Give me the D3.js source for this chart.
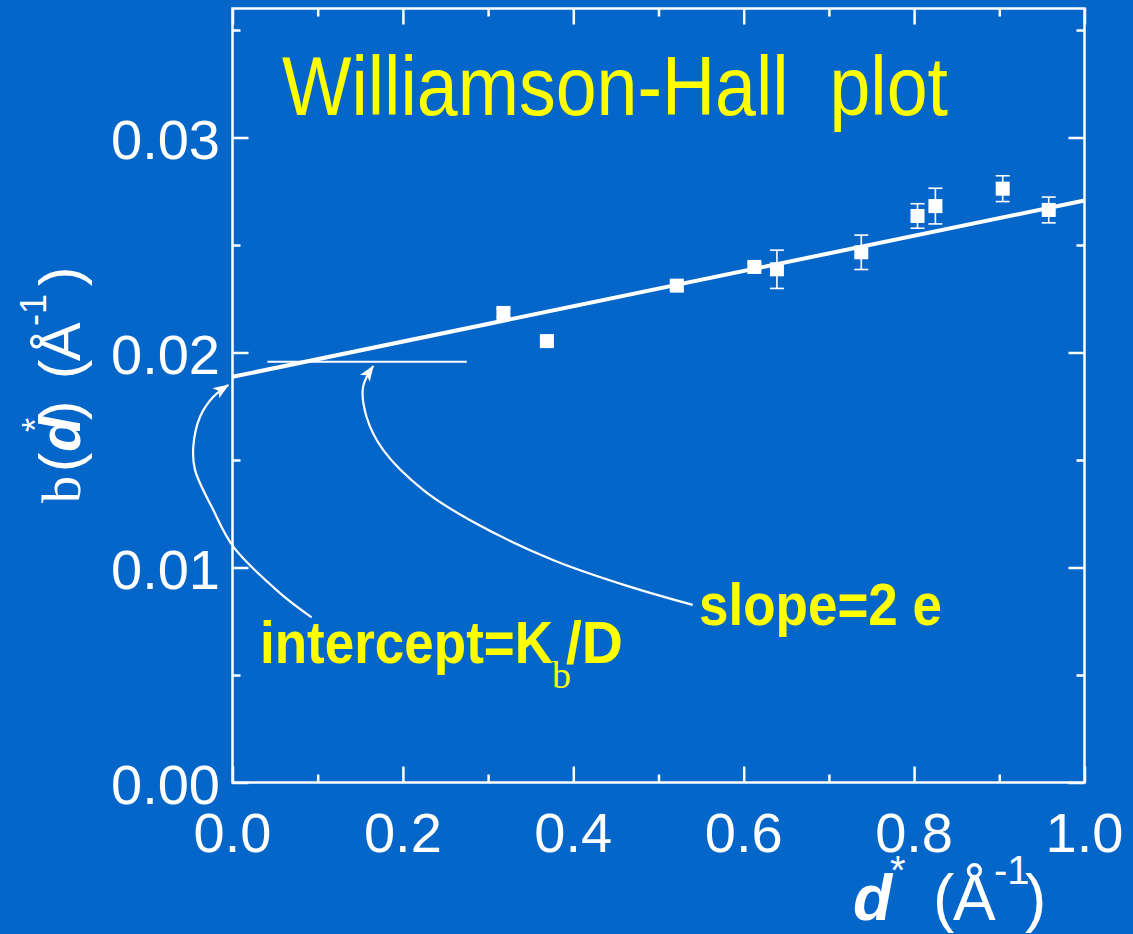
<!DOCTYPE html>
<html>
<head>
<meta charset="utf-8">
<script src="https://cdn.jsdelivr.net/npm/d3@7"></script>
<style>
  html, body { margin: 0; padding: 0; background: #0566CA; }
  svg { display: block; }
</style>
</head>
<body>
<svg id="chart" width="1133" height="934"></svg>
<script>
// Williamson-Hall data: reciprocal spacing d* (1/Å) vs. integral breadth beta (1/Å)
const dStar  = [0.318, 0.369, 0.5215, 0.6125, 0.639, 0.738, 0.804, 0.825, 0.904, 0.958];
const beta   = [0.02184, 0.02053, 0.02311, 0.02398, 0.02387, 0.02466, 0.02635, 0.02681, 0.02762, 0.02663];
const betaErr = [0.0002, 0.0002, 0.0002, 0.00015, 0.00089, 0.0008, 0.00057, 0.00083, 0.0006, 0.0006];

// Linear fit: beta = intercept + slope * d*
const fitIntercept = 0.01887;
const fitSlope = 0.0082;

// Tick values
const xMajorTicks = [0.0, 0.2, 0.4, 0.6, 0.8, 1.0];
const xMinorTicks = [0.1, 0.3, 0.5, 0.7, 0.9];
const yMajorTicks = [0.00, 0.01, 0.02, 0.03];
const yMinorTicks = [0.005, 0.015, 0.025, 0.035];

// Horizontal guide showing the rise for the slope annotation
const guideY = 0.01957;
const guideX = [0.041, 0.275];

// Annotation arrow paths (data units), tail to head
const interceptArrow = [
  [0.0929, 0.00768], [0.0557, 0.00881], [0.0009, 0.01097], [-0.0225, 0.01267],
  [-0.0440, 0.01454], [-0.0460, 0.01562], [-0.0381, 0.01701], [-0.0225, 0.01794], [-0.0049, 0.01849]
];
const slopeArrow = [
  [0.5402, 0.00826], [0.4660, 0.00911], [0.3761, 0.01035], [0.2784, 0.01221],
  [0.2237, 0.01361], [0.1768, 0.01547], [0.1573, 0.01701], [0.1533, 0.01841], [0.1651, 0.01937]
];

const W = 1133, H = 934;
const margin = { left: 232.5, right: 1084.5, top: 8.5, bottom: 782.5 };
const svg = d3.select('#chart');
const BG = '#0566CA';
const FG = '#FFFFFF';
const YEL = '#FFFF00';
const SANS = 'Liberation Sans, Arial, Helvetica, sans-serif';
const SERIF = 'Liberation Serif, Times New Roman, serif';

svg.append('rect').attr('width', W).attr('height', H).attr('fill', BG);

const x = d3.scaleLinear().domain([0, 1]).range([margin.left, margin.right]);
const y = d3.scaleLinear().domain([0, 0.036]).range([margin.bottom, margin.top]);

// Frame axes with inward ticks on all four sides
function styleAxis(g) {
  g.select('.domain').remove();
  g.selectAll('.tick line').attr('stroke', FG).attr('stroke-width', 2.5);
  g.selectAll('.tick text').remove();
}
const majLen = 16, minLen = 8;
svg.append('g').attr('transform', `translate(0,${margin.bottom})`)
  .call(d3.axisBottom(x).tickValues(xMajorTicks).tickSize(-majLen)).call(styleAxis);
svg.append('g').attr('transform', `translate(0,${margin.bottom})`)
  .call(d3.axisBottom(x).tickValues(xMinorTicks).tickSize(-minLen)).call(styleAxis);
svg.append('g').attr('transform', `translate(0,${margin.top})`)
  .call(d3.axisTop(x).tickValues(xMajorTicks).tickSize(-majLen)).call(styleAxis);
svg.append('g').attr('transform', `translate(0,${margin.top})`)
  .call(d3.axisTop(x).tickValues(xMinorTicks).tickSize(-minLen)).call(styleAxis);
svg.append('g').attr('transform', `translate(${margin.left},0)`)
  .call(d3.axisLeft(y).tickValues(yMajorTicks).tickSize(-majLen)).call(styleAxis);
svg.append('g').attr('transform', `translate(${margin.left},0)`)
  .call(d3.axisLeft(y).tickValues(yMinorTicks).tickSize(-minLen)).call(styleAxis);
svg.append('g').attr('transform', `translate(${margin.right},0)`)
  .call(d3.axisRight(y).tickValues(yMajorTicks).tickSize(-majLen)).call(styleAxis);
svg.append('g').attr('transform', `translate(${margin.right},0)`)
  .call(d3.axisRight(y).tickValues(yMinorTicks).tickSize(-minLen)).call(styleAxis);

svg.append('rect')
  .attr('x', margin.left).attr('y', margin.top)
  .attr('width', margin.right - margin.left).attr('height', margin.bottom - margin.top)
  .attr('fill', 'none').attr('stroke', FG).attr('stroke-width', 2.5);

// Tick labels
const tickFont = 56;
svg.append('g').selectAll('text').data(xMajorTicks).join('text')
  .attr('x', d => x(d)).attr('y', 852)
  .attr('text-anchor', 'middle')
  .attr('font-family', SANS).attr('font-size', tickFont).attr('fill', FG)
  .text(d => d.toFixed(1));
svg.append('g').selectAll('text').data(yMajorTicks).join('text')
  .attr('x', 220).attr('y', d => y(d) + 21)
  .attr('text-anchor', 'end')
  .attr('font-family', SANS).attr('font-size', tickFont).attr('fill', FG)
  .text(d => d.toFixed(2));

// Fit line
svg.append('line')
  .attr('x1', x(0)).attr('y1', y(fitIntercept))
  .attr('x2', x(1)).attr('y2', y(fitIntercept + fitSlope))
  .attr('stroke', FG).attr('stroke-width', 4);

// Horizontal guide
svg.append('line')
  .attr('x1', x(guideX[0])).attr('x2', x(guideX[1]))
  .attr('y1', y(guideY)).attr('y2', y(guideY))
  .attr('stroke', FG).attr('stroke-width', 2);

// Error bars and square markers
const pts = dStar.map((d, i) => ({ x: d, y: beta[i], e: betaErr[i] }));
const eb = svg.append('g').attr('stroke', FG).attr('stroke-width', 1.6);
const capW = 7;
pts.forEach(p => {
  eb.append('line').attr('x1', x(p.x)).attr('x2', x(p.x))
    .attr('y1', y(p.y - p.e)).attr('y2', y(p.y + p.e));
  eb.append('line').attr('x1', x(p.x) - capW).attr('x2', x(p.x) + capW)
    .attr('y1', y(p.y + p.e)).attr('y2', y(p.y + p.e));
  eb.append('line').attr('x1', x(p.x) - capW).attr('x2', x(p.x) + capW)
    .attr('y1', y(p.y - p.e)).attr('y2', y(p.y - p.e));
});
const sq = 14;
svg.append('g').selectAll('rect').data(pts).join('rect')
  .attr('x', d => x(d.x) - sq / 2).attr('y', d => y(d.y) - sq / 2)
  .attr('width', sq).attr('height', sq).attr('fill', FG);

// Arrowhead marker
svg.append('defs').append('marker')
  .attr('id', 'head').attr('viewBox', '0 0 16 12')
  .attr('refX', 15).attr('refY', 6)
  .attr('markerWidth', 16).attr('markerHeight', 12)
  .attr('markerUnits', 'userSpaceOnUse')
  .attr('orient', 'auto')
  .append('path').attr('d', 'M0,0 L16,6 L0,12 L4,6 Z').attr('fill', FG);

const curve = d3.line().x(d => x(d[0])).y(d => y(d[1])).curve(d3.curveCatmullRom);
[interceptArrow, slopeArrow].forEach(a => {
  svg.append('path').attr('d', curve(a))
    .attr('fill', 'none').attr('stroke', FG).attr('stroke-width', 2.2)
    .attr('marker-end', 'url(#head)');
});

// Title
svg.append('text')
  .attr('x', 282).attr('y', 115)
  .attr('font-family', SANS).attr('font-size', 83).attr('fill', YEL)
  .attr('textLength', 666).attr('lengthAdjust', 'spacingAndGlyphs')
  .style('white-space', 'pre')
  .text('Williamson-Hall  plot');

// Annotation labels
svg.append('text')
  .attr('x', 260).attr('y', 663)
  .attr('font-family', SANS).attr('font-weight', 'bold').attr('font-size', 60).attr('fill', YEL)
  .attr('textLength', 293).attr('lengthAdjust', 'spacingAndGlyphs')
  .text('intercept=K');
svg.append('text')
  .attr('x', 552).attr('y', 688)
  .attr('font-family', SERIF).attr('font-size', 38).attr('fill', YEL)
  .text('b');
svg.append('text')
  .attr('x', 566).attr('y', 663)
  .attr('font-family', SANS).attr('font-weight', 'bold').attr('font-size', 60).attr('fill', YEL)
  .attr('textLength', 57).attr('lengthAdjust', 'spacingAndGlyphs')
  .text('/D');
svg.append('text')
  .attr('x', 699).attr('y', 625)
  .attr('font-family', SANS).attr('font-weight', 'bold').attr('font-size', 60).attr('fill', YEL)
  .attr('textLength', 243).attr('lengthAdjust', 'spacingAndGlyphs')
  .style('white-space', 'pre')
  .text('slope=2 e');

// X axis title: d* (Å^-1)
const xt = svg.append('g').attr('fill', FG).attr('font-family', SANS);
xt.append('text').attr('x', 853).attr('y', 920)
  .attr('font-size', 64).attr('font-weight', 'bold').attr('font-style', 'italic').text('d');
xt.append('text').attr('x', 890).attr('y', 884)
  .attr('font-size', 40).text('*');
xt.append('text').attr('x', 933).attr('y', 920)
  .attr('font-size', 64).text('(');
xt.append('text').attr('x', 953).attr('y', 920)
  .attr('font-size', 64).text('Å');
xt.append('text').attr('x', 994).attr('y', 884)
  .attr('font-size', 40).text('-1');
xt.append('text').attr('x', 1025).attr('y', 920)
  .attr('font-size', 64).text(')');

// Y axis title: b(d*) (Å^-1), rotated; x positions run along the axis (negative page y)
const yt = svg.append('g').attr('fill', FG).attr('font-family', SANS)
  .attr('transform', 'translate(80,0) rotate(-90)');
yt.append('text').attr('x', -503).attr('y', 0)
  .attr('font-family', SERIF).attr('font-size', 54).text('b');
yt.append('text').attr('x', -472).attr('y', 0).attr('font-size', 58).text('(');
yt.append('text').attr('x', -452).attr('y', 0).attr('font-size', 58)
  .attr('font-weight', 'bold').attr('font-style', 'italic').text('d');
yt.append('text').attr('x', -432).attr('y', -32).attr('font-size', 36).text('*');
yt.append('text').attr('x', -420).attr('y', 0).attr('font-size', 58).text(')');
yt.append('text').attr('x', -379).attr('y', 0).attr('font-size', 58).text('(');
yt.append('text').attr('x', -361).attr('y', 0).attr('font-size', 58).text('Å');
yt.append('text').attr('x', -326).attr('y', -34).attr('font-size', 36).text('-1');
yt.append('text').attr('x', -286).attr('y', 0).attr('font-size', 58).text(')');
</script>
</body>
</html>
